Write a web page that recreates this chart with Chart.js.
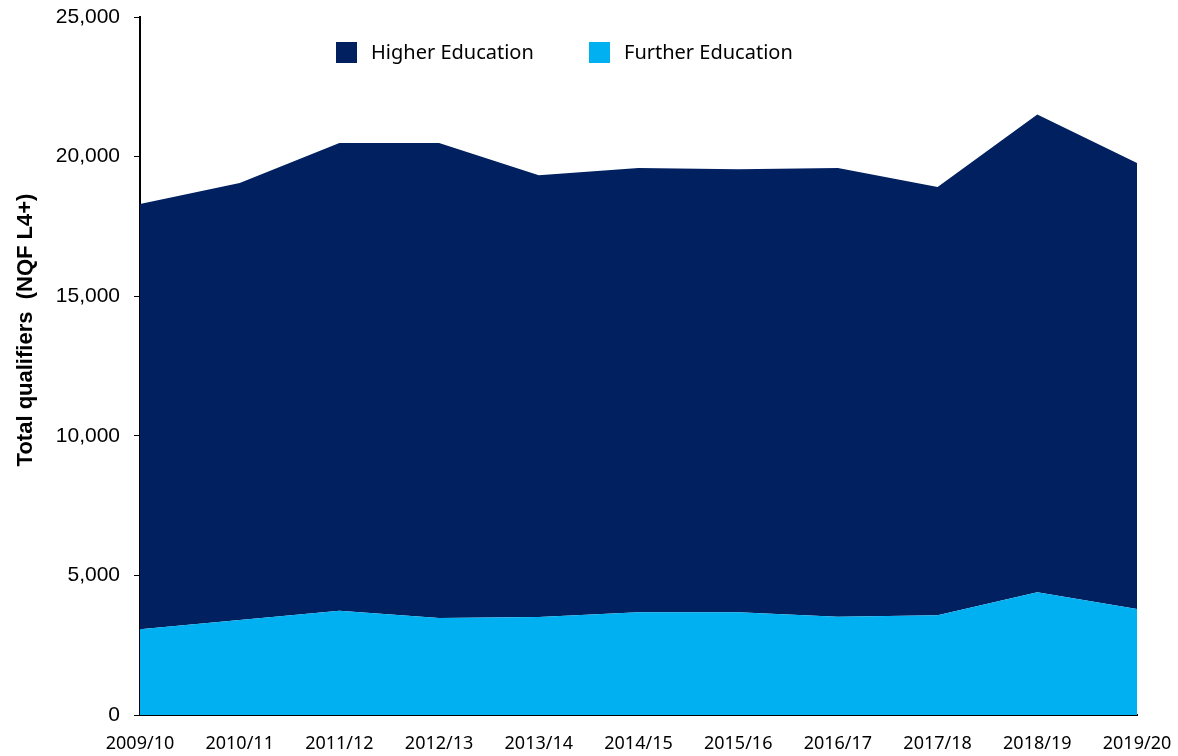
<!DOCTYPE html>
<html>
<head>
<meta charset="utf-8">
<script src="https://cdn.jsdelivr.net/npm/chart.js@4"></script>
<style>
  html, body { margin: 0; padding: 0; background: #fff; }
  #wrap { width: 1178px; height: 756px; position: relative; }
</style>
</head>
<body>
<div id="wrap"><canvas id="chart"></canvas></div>
<script>
// academic years
const years = ['2009/10', '2010/11', '2011/12', '2012/13', '2013/14', '2014/15',
               '2015/16', '2016/17', '2017/18', '2018/19', '2019/20'];
// qualifiers by sector (stacked: FE at the bottom, HE on top)
const furtherEd = [3070, 3400, 3730, 3470, 3510, 3680, 3680, 3520, 3570, 4400, 3800];
const higherEd = [15230, 15650, 16760, 17020, 15820, 15910, 15870, 16070, 15340, 17110, 15970];
const yTicks = [0, 5000, 10000, 15000, 20000, 25000];

const NAVY = '#002060';
const CYAN = '#00B0F0';

// legend + rotated y title drawn onto the canvas (they sit inside/over the plot like the original)
const overlay = {
    id: 'overlay',
    afterDraw(chart) {
        const ctx = chart.ctx;
        ctx.save();
        // legend: HE first, then FE
        const items = [chart.data.datasets[1], chart.data.datasets[0]];
        const xs = [336, 589];
        ctx.font = '20px "Noto Sans"';
        ctx.textBaseline = 'middle';
        ctx.textAlign = 'left';
        items.forEach((ds, i) => {
            ctx.fillStyle = ds.backgroundColor;
            ctx.fillRect(xs[i], 42, 21, 21);
            ctx.fillStyle = '#000';
            ctx.fillText(ds.label, xs[i] + 35, 53);
        });
        // y axis title
        ctx.translate(26, 330);
        ctx.rotate(-Math.PI / 2);
        ctx.textAlign = 'center';
        ctx.font = 'bold 22px "Liberation Sans", Arial';
        ctx.fillText('Total qualifiers  (NQF L4+)', 0, 0);
        ctx.restore();
    }
};

new Chart(document.getElementById('chart').getContext('2d'), {
    type: 'line',
    data: {
        labels: years,
        datasets: [
            {
                label: 'Further Education',
                data: furtherEd,
                backgroundColor: CYAN,
                borderColor: CYAN,
                borderWidth: 0,
                pointRadius: 0,
                tension: 0,
                fill: 'origin'
            },
            {
                label: 'Higher Education',
                data: higherEd,
                backgroundColor: NAVY,
                borderColor: NAVY,
                borderWidth: 0,
                pointRadius: 0,
                tension: 0,
                fill: '-1'
            }
        ]
    },
    options: {
        responsive: true,
        maintainAspectRatio: false,
        animation: false,
        layout: { padding: { left: 0, right: 41, top: 17, bottom: 0 } },
        plugins: {
            legend: { display: false },
            tooltip: { enabled: false }
        },
        scales: {
            x: {
                offset: false,
                grid: { display: false, drawTicks: false },
                border: { display: true, color: '#000', width: 2 },
                ticks: {
                    color: '#000',
                    padding: 18,
                    maxRotation: 0,
                    autoSkip: false,
                    font: { family: '"Noto Sans"', size: 18 }
                },
                afterFit(scale) {
                    scale.height = 41;
                    scale.paddingLeft = 0;
                    scale.paddingRight = 0;
                }
            },
            y: {
                stacked: true,
                min: 0,
                max: 25000,
                afterBuildTicks(scale) {
                    scale.ticks = yTicks.map(v => ({ value: v }));
                },
                grid: {
                    drawOnChartArea: false,
                    drawTicks: true,
                    tickLength: 6,
                    color: '#000'
                },
                border: { display: true, color: '#000', width: 2 },
                ticks: {
                    color: '#000',
                    padding: 14,
                    font: { family: '"Liberation Sans", Arial', size: 21 },
                    callback: v => v.toLocaleString('en-GB')
                },
                afterFit(scale) {
                    scale.width = 140;
                    scale.paddingTop = 0;
                    scale.paddingBottom = 0;
                }
            }
        }
    },
    plugins: [overlay]
});
</script>
</body>
</html>
